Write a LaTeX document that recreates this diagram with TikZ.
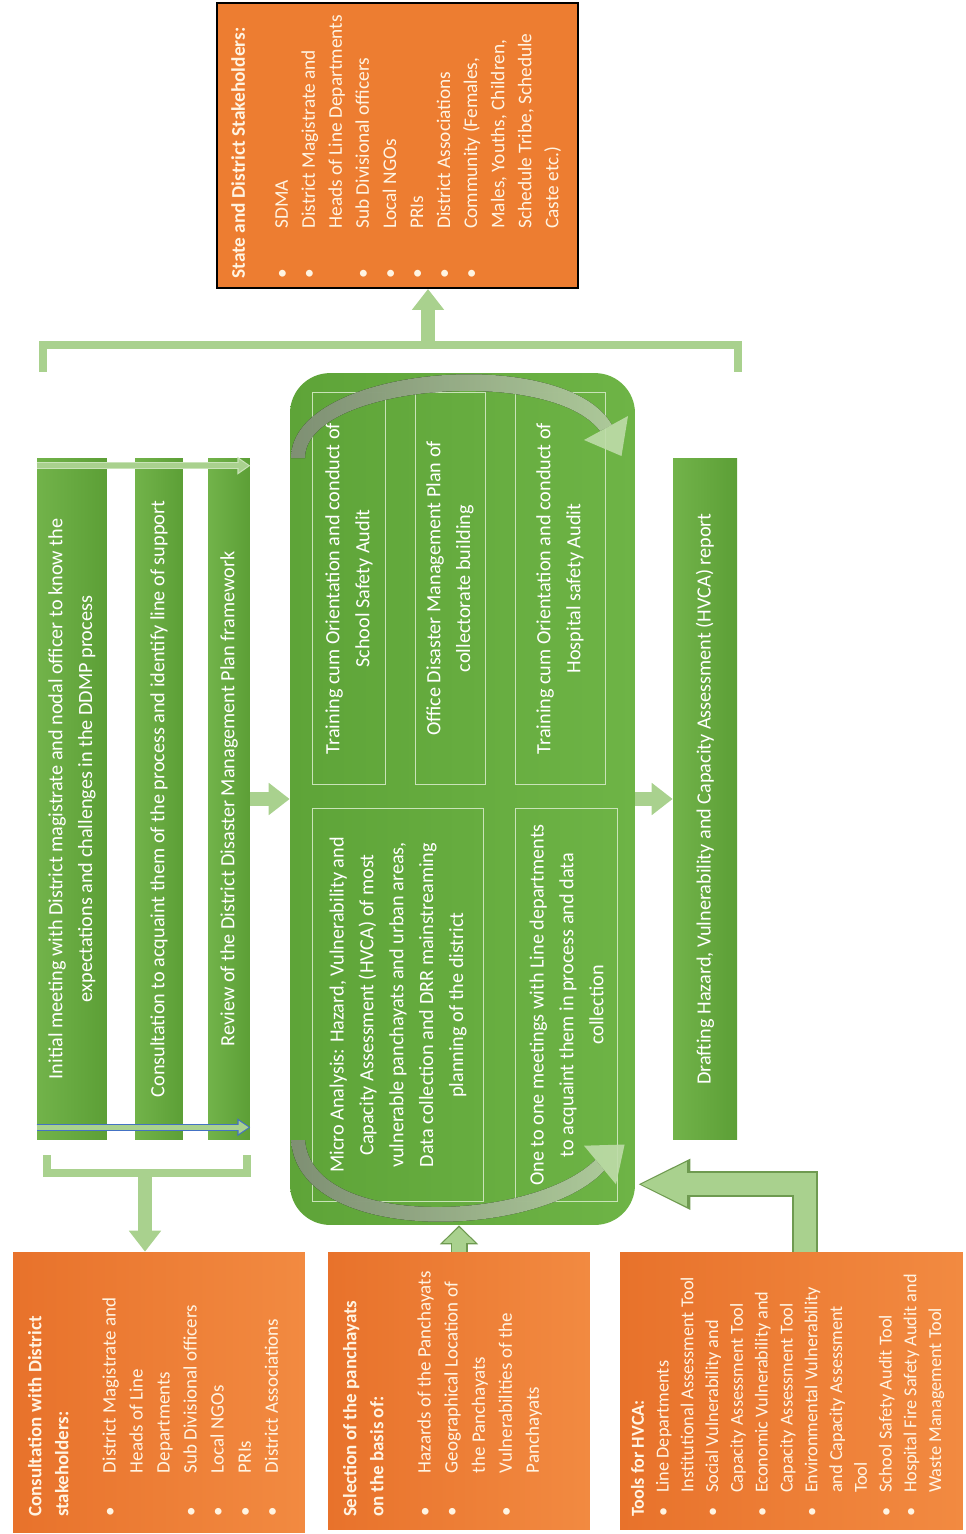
\documentclass[tikz,border=0pt]{standalone}
\usepackage{fontspec}
\setmainfont{Carlito}
\usetikzlibrary{arrows.meta,calc,positioning}

\definecolor{orangeL}{HTML}{E8722B}
\definecolor{orangeR}{HTML}{F28A41}
\definecolor{orangeflat}{HTML}{ED7D31}
\definecolor{barL}{HTML}{72B34A}
\definecolor{barR}{HTML}{5C9F36}
\definecolor{boxL}{HTML}{5EA438}
\definecolor{boxR}{HTML}{6EB446}
\definecolor{arrowgreen}{HTML}{A9D18E}
\definecolor{arrowedge}{HTML}{6E9A50}
\definecolor{innerline}{HTML}{C9E3B8}
\definecolor{curvegray}{HTML}{8C9E80}
\definecolor{curvelight}{HTML}{BEDCA9}
\definecolor{txtcream}{HTML}{FFF4E2}
\definecolor{thinblue}{HTML}{4472C4}

% bullet list for the orange boxes
\newenvironment{dotlist}[1]{%
  \begin{list}{\textbullet}{%
    \setlength\leftmargin{#1}\setlength\labelwidth{#1}%
    \setlength\labelsep{0pt}\setlength\itemindent{0pt}%
    \setlength\itemsep{0pt}\setlength\parsep{0pt}%
    \setlength\topsep{0pt}\setlength\partopsep{0pt}%
    \def\makelabel##1{##1\hfil}}}%
  {\end{list}}

\begin{document}
\begin{tikzpicture}[x=0.02cm,y=-0.02cm,
	greenbar/.style={rectangle,inner sep=0pt,left color=barL,right color=barR},
	bartext/.style={rotate=90,align=center,text=white,inner sep=0pt,font=\fontsize{11.5}{17}\selectfont},
	centerbox/.style={rectangle,rounded corners=0.8cm,inner sep=0pt,left color=boxL,right color=boxR},
	innerbox/.style={rotate=90,draw=innerline,line width=0.02cm,align=center,text=white,inner sep=0pt,font=\fontsize{11.5}{17}\selectfont},
	orangebox/.style={rectangle,inner sep=0pt,fill=orangeflat},
	orangeshade/.style={rectangle,inner sep=0pt,left color=orangeL,right color=orangeR},
	orangetext/.style={rotate=90,anchor=north west,inner sep=0pt,text=txtcream,font=\fontsize{10.8}{15.4}\selectfont},
	bracket/.style={draw=arrowgreen,line width=0.16cm},
	fatarrow/.style={draw=arrowgreen,line width=0.28cm,-{Triangle[width=0.62cm,length=0.42cm]}},
	upedge/.style={draw=arrowedge,line width=0.34cm,-{Triangle[width=0.74cm,length=0.38cm]}},
	upfill/.style={draw=arrowgreen,line width=0.27cm,shorten >=0.04cm,-{Triangle[width=0.62cm,length=0.31cm]}},
	bentedge/.style={draw=arrowedge,line width=0.52cm,-{Triangle[width=0.94cm,length=1.06cm]}},
	bentfill/.style={draw=arrowgreen,line width=0.44cm,shorten >=0.05cm,-{Triangle[width=0.82cm,length=0.94cm]}},
	thinedge/.style={line width=0.15cm,-{Triangle[width=0.34cm,length=0.26cm]}},
	thinfill/.style={draw=arrowgreen,line width=0.09cm,shorten >=0.035cm,-{Triangle[width=0.25cm,length=0.2cm]}}]

	\useasboundingbox (0,0) rectangle (965,1534);

	% brackets
	\draw [bracket] (43,372) -- (43,345) -- (738,345) -- (738,372);
	\draw [bracket] (47,1155) -- (47,1173) -- (247,1173) -- (247,1155);
	\coordinate (bracetop) at (428,345);
	\coordinate (bracebot) at (145,1173);

	% stakeholder boxes
	\node [orangebox,draw=black,line width=0.04cm,minimum width=7.22cm,minimum height=5.7cm] (state) at (397.5,145.5) {};
	\node [orangetext,font=\fontsize{11}{15.4}\selectfont] at ([xshift=0.3cm,yshift=0.2cm]state.south west) {\parbox{5.5cm}{\raggedright
		\textbf{State and District Stakeholders:}\par\vspace{9pt}
		\begin{dotlist}{1cm}
			\item SDMA
			\item District Magistrate and\\Heads of Line Departments
			\item Sub Divisional officers
			\item Local NGOs
			\item PRIs
			\item District Associations
			\item Community (Females,\\Males, Youths, Children,\\Schedule Tribe, Schedule\\Caste etc.)
		\end{dotlist}}};

	\node [orangeshade,minimum width=5.84cm,minimum height=5.62cm] (consultbox) at (159,1392.5) {};
	\node [orangetext] at ([xshift=0.3cm,yshift=0.32cm]consultbox.south west) {\parbox{5.3cm}{\raggedright
		\textbf{Consultation with District\\stakeholders:}\par\vspace{11.4pt}
		\begin{dotlist}{0.88cm}
			\item District Magistrate and\\Heads of Line\\Departments
			\item Sub Divisional officers
			\item Local NGOs
			\item PRIs
			\item District Associations
		\end{dotlist}}};

	\node [orangeshade,minimum width=5.24cm,minimum height=5.56cm] (selectbox) at (459,1391) {};
	\node [orangetext] at ([xshift=0.3cm,yshift=0.26cm]selectbox.south west) {\parbox{5.3cm}{\raggedright
		\textbf{Selection of the panchayats\\on the basis of:}\par\vspace{11.5pt}
		\begin{dotlist}{0.88cm}
			\item Hazards of the Panchayats
			\item Geographical Location of\\the Panchayats
			\item Vulnerabilities of the\\Panchayats
		\end{dotlist}}};

	\node [orangeshade,minimum width=6.86cm,minimum height=5.56cm] (toolsbox) at (791.5,1391) {};
	\node [orangetext,font=\fontsize{10.4}{14.1}\selectfont] at ([xshift=0.22cm,yshift=0.26cm]toolsbox.south west) {\parbox{5.3cm}{\raggedright
		\textbf{Tools for HVCA:}\par
		\begin{dotlist}{0.48cm}
			\item Line Departments\\Institutional Assessment Tool
			\item Social Vulnerability and\\Capacity Assessment Tool
			\item Economic Vulnerability and\\Capacity Assessment Tool
			\item Environmental Vulnerability\\and Capacity Assessment\\Tool
			\item School Safety Audit Tool
			\item Hospital Fire Safety Audit and\\Waste Management Tool
		\end{dotlist}}};

	% process bars
	\node [greenbar,minimum width=1.4cm,minimum height=13.64cm] (meet) at (72,799) {};
	\node [bartext] at (meet) {Initial meeting with District magistrate and nodal officer to know the\\expectations and challenges in the DDMP process};
	\node [greenbar,minimum width=0.96cm,minimum height=13.64cm] (consult) at (159,799) {};
	\node [bartext] at (consult) {Consultation to acquaint them of the process and identify line of support};
	\node [greenbar,minimum width=0.84cm,minimum height=13.64cm] (review) at (229,799) {};
	\node [bartext] at (review) {Review of the District Disaster Management Plan framework};
	\node [greenbar,minimum width=1.28cm,minimum height=13.64cm] (report) at (705,799) {};
	\node [bartext] at (report) {Drafting Hazard, Vulnerability and Capacity Assessment (HVCA) report};

	\draw [thinedge,draw=innerline] ([yshift=-0.16cm]meet.north west) -- ([yshift=-0.16cm]review.north east);
	\draw [thinfill] ([yshift=-0.16cm]meet.north west) -- ([yshift=-0.16cm]review.north east);
	\draw [thinedge,draw=thinblue] ([yshift=0.26cm]meet.south west) -- ([yshift=0.26cm]review.south east);
	\draw [thinfill] ([yshift=0.26cm]meet.south west) -- ([yshift=0.26cm]review.south east);

	% central block
	\node [centerbox,minimum width=6.9cm,minimum height=17.04cm] (hvca) at (462.5,799) {};
	\node [innerbox,minimum width=7.86cm,minimum height=1.48cm] (school) at (349,588.5) {Training cum Orientation and conduct of\\School Safety Audit};
	\node [innerbox,minimum width=7.86cm,minimum height=1.4cm] (office) at (450,588.5) {Office Disaster Management Plan of\\collectorate building};
	\node [innerbox,minimum width=7.86cm,minimum height=1.8cm] (hospital) at (560,588.5) {Training cum Orientation and conduct of\\Hospital safety Audit};
	\node [innerbox,minimum width=7.88cm,minimum height=3.44cm] (micro) at (398,1005) {Micro Analysis: Hazard, Vulnerability and\\Capacity Assessment (HVCA) of most\\vulnerable panchayats and urban areas,\\Data collection and DRR mainstreaming\\planning of the district};
	\node [innerbox,minimum width=7.88cm,minimum height=2.06cm] (oneone) at (566.5,1005) {One to one meetings with Line departments\\to acquaint them in process and data\\collection};

	% curved arrows
	\fill [left color=curvegray,right color=curvelight,opacity=0.9] (291,458) .. controls (291,365) and (566,343) .. (612,425)
		-- (600,431) .. controls (550,365) and (305,385) .. (305,458) -- cycle;
	\fill [curvelight,opacity=0.9] (628,416) -- (621.5,456) -- (584,440) -- cycle;
	\fill [left color=curvegray,right color=curvelight,opacity=0.9] (291,1140) .. controls (298,1247) and (540,1240) .. (604.5,1170.4)
		-- (595.5,1159.6) .. controls (533,1222) and (312,1230) .. (305,1140) -- cycle;
	\fill [curvelight,opacity=0.9] (616,1184.3) -- (624.6,1144.5) -- (584,1145.7) -- cycle;

	% connectors
	\draw [fatarrow] (review) -- (hvca);
	\draw [fatarrow] (hvca) -- (report);
	\draw [fatarrow] (bracetop) -- (bracetop |- state.south);
	\draw [fatarrow] (bracebot) -- (bracebot |- consultbox.north);
	\draw [upedge] (selectbox.north) -- (selectbox.north |- hvca.south);
	\draw [upfill] (selectbox.north) -- (selectbox.north |- hvca.south);
	\coordinate (bendtip) at ($(hvca.south east)+(2,-41)$);
	\draw [bentedge] ($(toolsbox.north)+(13.5,0)$) |- (bendtip);
	\draw [bentfill] ($(toolsbox.north)+(13.5,0)$) |- (bendtip);
\end{tikzpicture}
\end{document}
